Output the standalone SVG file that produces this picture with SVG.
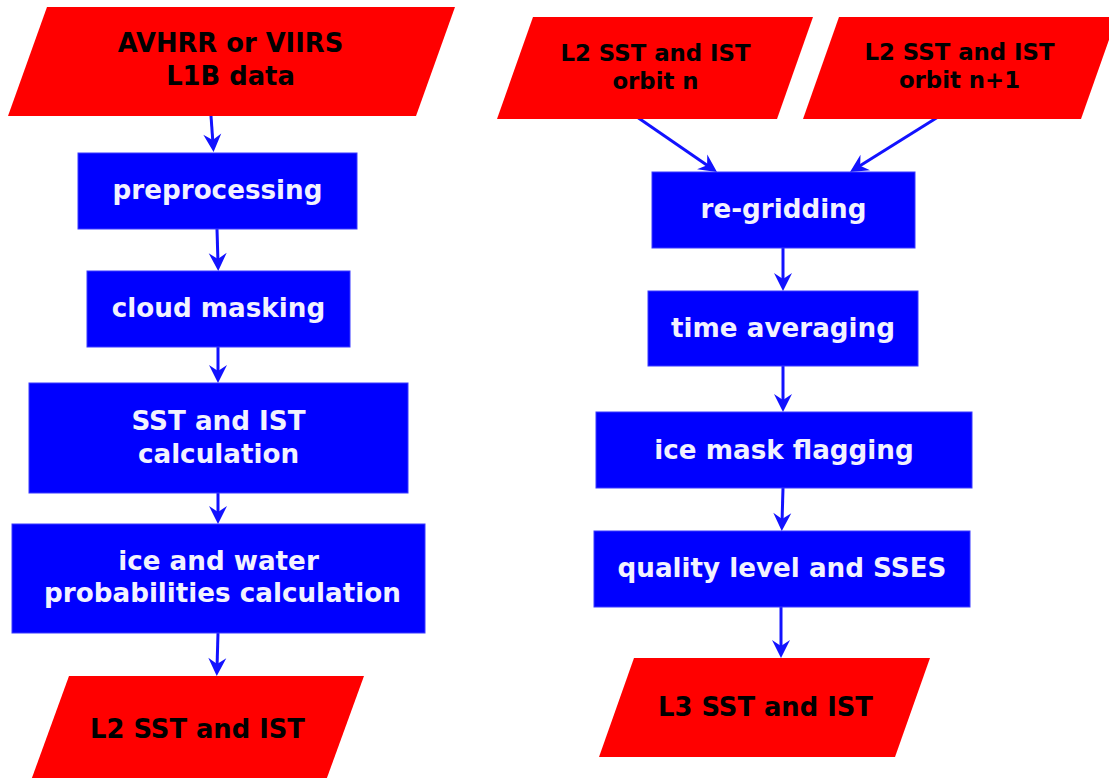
<svg xmlns="http://www.w3.org/2000/svg" width="1109" height="778" viewBox="0 0 1109 778">
<style>
.io{fill:#ff0000;}
.proc{fill:#0000ff;stroke:#3a3aff;stroke-width:1;}
.t{font-family:"DejaVu Sans",sans-serif;font-weight:bold;text-anchor:middle;}
.tio{fill:#000000;font-size:25.8px;}
.tio2{fill:#000000;font-size:22.8px;}
.tp{fill:#f2f2ff;font-size:26.2px;}
.c{stroke:#1212ff;stroke-width:3;fill:none;marker-end:url(#ah);}
</style>
<defs>
<marker id="ah" viewBox="-11 -10 22 20" refX="0" refY="0" markerWidth="22" markerHeight="20" markerUnits="userSpaceOnUse" orient="auto">
<path d="M8,0 L-10,-9 L-4,0 L-10,9 Z" fill="#1212ff"/>
</marker>
</defs>
<rect width="1109" height="778" fill="#ffffff"/>
<g id="connectors">
<path class="c" d="M211,116 L213,144"/>
<path class="c" d="M217,229 L218,263"/>
<path class="c" d="M218,347 L218,375"/>
<path class="c" d="M218,493 L218,516"/>
<path class="c" d="M218,633 L217,668"/>
<path class="c" d="M637,117 L710.4,167.5"/>
<path class="c" d="M938,117 L856.8,167.8"/>
<path class="c" d="M783,248 L783,283"/>
<path class="c" d="M783,366 L783,404"/>
<path class="c" d="M783,488 L782,523"/>
<path class="c" d="M781,607 L781,650"/>
</g>
<g id="avhrr">
<polygon class="io" points="47,7 455,7 416,116 8,116"/>
<text class="t tio" x="230.5" y="52">AVHRR or VIIRS</text>
<text class="t tio" x="230.5" y="85">L1B data</text>
</g>
<g id="preprocessing">
<rect class="proc" x="78" y="153" width="279" height="76"/>
<text class="t tp" x="217.5" y="199">preprocessing</text>
</g>
<g id="cloud">
<rect class="proc" x="87" y="271" width="263" height="76"/>
<text class="t tp" x="218.5" y="317">cloud masking</text>
</g>
<g id="sstcalc">
<rect class="proc" x="29" y="383" width="379" height="110"/>
<text class="t tp" x="218.5" y="430">SST and IST</text>
<text class="t tp" x="218.5" y="463">calculation</text>
</g>
<g id="icewater">
<rect class="proc" x="12" y="524" width="413" height="109"/>
<text class="t tp" x="218.5" y="570">ice and water</text>
<text class="t tp" x="222.5" y="602">probabilities calculation</text>
</g>
<g id="l2out">
<polygon class="io" points="69,676 364,676 324,786 29,786"/>
<text class="t tio" x="197.5" y="738">L2 SST and IST</text>
</g>
<g id="orbitn">
<polygon class="io" points="533,17 813,17 777,119 497,119"/>
<text class="t tio2" x="655.5" y="61">L2 SST and IST</text>
<text class="t tio2" x="655.5" y="89">orbit n</text>
</g>
<g id="orbitn1">
<polygon class="io" points="839,17 1117,17 1081,119 803,119"/>
<text class="t tio2" x="959.5" y="60">L2 SST and IST</text>
<text class="t tio2" x="959.5" y="88">orbit n+1</text>
</g>
<g id="regridding">
<rect class="proc" x="652" y="172" width="263" height="76"/>
<text class="t tp" x="783.5" y="218">re-gridding</text>
</g>
<g id="timeavg">
<rect class="proc" x="648" y="291" width="270" height="75"/>
<text class="t tp" x="783" y="337">time averaging</text>
</g>
<g id="icemask">
<rect class="proc" x="596" y="412" width="376" height="76"/>
<text class="t tp" x="784" y="459">ice mask flagging</text>
</g>
<g id="quality">
<rect class="proc" x="594" y="531" width="376" height="76"/>
<text class="t tp" x="782" y="577">quality level and SSES</text>
</g>
<g id="l3out">
<polygon class="io" points="634,658 930,658 895,757 599,757"/>
<text class="t tio" x="765.5" y="716">L3 SST and IST</text>
</g>
</svg>
